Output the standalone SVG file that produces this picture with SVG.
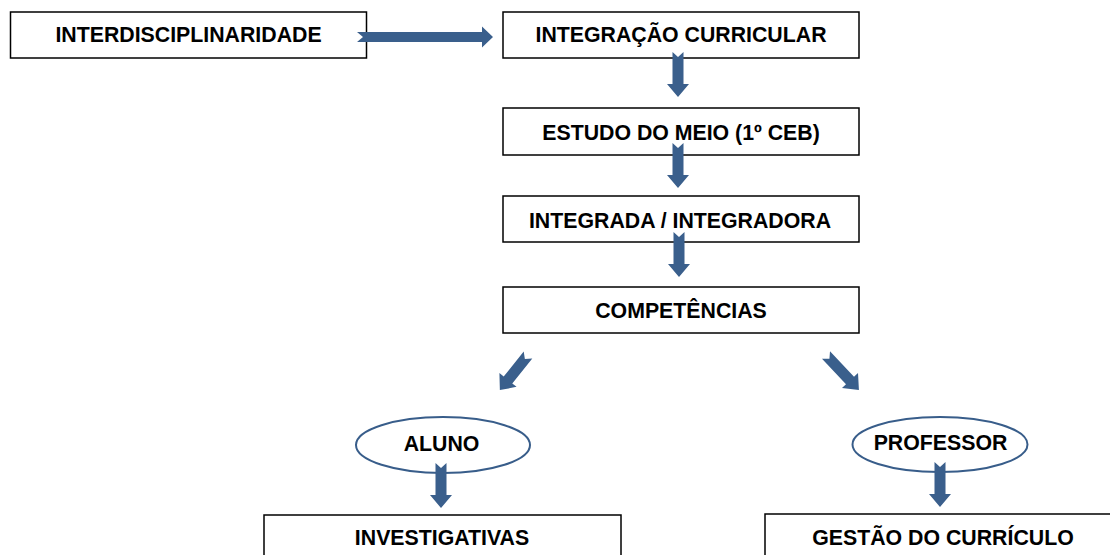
<svg xmlns="http://www.w3.org/2000/svg" width="1110" height="555" viewBox="0 0 1110 555">
<style>
.box{fill:#fff;stroke:#000;stroke-width:1.5}
.ell{fill:#fff;stroke:#385D8A;stroke-width:2}
.lbl{font-family:"Liberation Sans",Arial,sans-serif;font-weight:bold;font-size:21.3px;fill:#000;text-anchor:middle}
.arr{fill:#3A5F8C}
</style>
<defs>
<path id="a45" d="M0,-5.5 L32,-5.5 L32,-11 L45,0 L32,11 L32,5.5 L0,5.5 L5,0 Z"/>
<path id="a48" d="M0,-5.5 L35,-5.5 L35,-11 L48,0 L35,11 L35,5.5 L0,5.5 L5,0 Z"/>
</defs>
<rect width="1110" height="555" fill="#fff"/>
<g id="n-interdisciplinaridade"><rect class="box" x="10.5" y="12" width="356" height="46"/><text class="lbl" x="188.5" y="42">INTERDISCIPLINARIDADE</text></g>
<g id="n-integracao"><rect class="box" x="503" y="12" width="356" height="46"/><text class="lbl" x="681" y="42">INTEGRAÇÃO CURRICULAR</text></g>
<g id="n-estudo"><rect class="box" x="503" y="108" width="356" height="47"/><text class="lbl" x="681" y="140">ESTUDO DO MEIO (1º CEB)</text></g>
<g id="n-integrada"><rect class="box" x="503" y="196" width="356" height="46"/><text class="lbl" x="680" y="228">INTEGRADA / INTEGRADORA</text></g>
<g id="n-competencias"><rect class="box" x="503" y="287" width="356" height="46"/><text class="lbl" x="681" y="318">COMPETÊNCIAS</text></g>
<g id="n-aluno"><ellipse class="ell" cx="443" cy="445" rx="87" ry="28"/><text class="lbl" x="441.5" y="451">ALUNO</text></g>
<g id="n-professor"><ellipse class="ell" cx="940" cy="444.5" rx="87.5" ry="27.5"/><text class="lbl" x="940.5" y="450">PROFESSOR</text></g>
<g id="n-investigativas"><rect class="box" x="264" y="515" width="357" height="50"/><text class="lbl" x="442" y="545">INVESTIGATIVAS</text></g>
<g id="n-gestao"><rect class="box" x="765" y="514" width="357" height="50"/><text class="lbl" x="943" y="545">GESTÃO DO CURRÍCULO</text></g>
<g id="connectors" class="arr">
<path d="M357,32 L482,32 L482,26.5 L493,37 L482,47.5 L482,42 L357,42 L363,37 Z"/>
<use href="#a45" transform="translate(678,52) rotate(90)"/>
<use href="#a45" transform="translate(678,143) rotate(90)"/>
<use href="#a45" transform="translate(679,232) rotate(90)"/>
<use href="#a45" transform="translate(528,355) rotate(128.7)"/>
<use href="#a48" transform="translate(826,355) rotate(46.7)"/>
<use href="#a45" transform="translate(441,463) rotate(90)"/>
<use href="#a45" transform="translate(940,462) rotate(90)"/>
</g>
</svg>
